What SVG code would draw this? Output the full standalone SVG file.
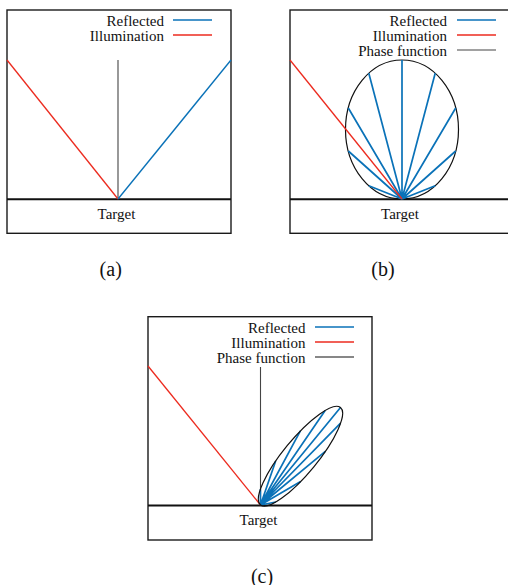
<svg xmlns="http://www.w3.org/2000/svg" width="508" height="585" viewBox="0 0 508 585">
<style>
text{font-family:'Liberation Serif','DejaVu Serif','Times New Roman',Times,serif;font-size:15px;fill:#111}
.cap{font-size:20px;text-anchor:middle}
.lg{text-anchor:end}
.tg{text-anchor:middle}
.box{fill:none;stroke:#1a1a1a;stroke-width:1.4}
.ground{stroke:#111;stroke-width:2}
.red{stroke:#ec2b1f;stroke-width:1.3;fill:none}
.blue{stroke:#0a72b8;stroke-width:1.4;fill:none}
.rays{stroke:#0a72b8;stroke-width:1.7;fill:none}
.norm{stroke:#444;stroke-width:1.1}
.phase{stroke:#111;stroke-width:1.2;fill:none}
</style>
<rect width="508" height="585" fill="#fff"/>

<g id="panel-a" font-family="Liberation Serif, DejaVu Serif, serif">
  <rect class="box" x="7" y="10" width="224" height="223.3"/>
  <line class="ground" x1="7" y1="199.3" x2="231" y2="199.3"/>
  <text class="tg" x="116.5" y="218.5">Target</text>
  <text class="lg" x="164" y="25.5">Reflected</text>
  <text class="lg" x="164" y="40.5">Illumination</text>
  <g id="connectors-a">
    <line class="blue" x1="173" y1="20" x2="212" y2="20"/>
    <line class="red" x1="173" y1="35" x2="212" y2="35"/>
    <line class="norm" x1="118" y1="60" x2="118" y2="199"/>
    <line class="red" x1="7" y1="60" x2="118" y2="199"/>
    <line class="blue" x1="118" y1="199" x2="231" y2="60"/>
  </g>
  <text class="cap" x="110.7" y="275.5">(a)</text>
</g>

<g id="panel-b" font-family="Liberation Serif, DejaVu Serif, serif">
  <rect class="box" x="290" y="10" width="224" height="223.3"/>
  <line class="ground" x1="290" y1="199.3" x2="514" y2="199.3"/>
  <text class="tg" x="400" y="218.5">Target</text>
  <text class="lg" x="447" y="25.5">Reflected</text>
  <text class="lg" x="447" y="40.5">Illumination</text>
  <text class="lg" x="447" y="55.5">Phase function</text>
  <g id="connectors-b">
    <line class="rays" x1="457" y1="20" x2="496" y2="20"/>
    <line class="red" x1="457" y1="35" x2="496" y2="35"/>
    <line class="norm" x1="457" y1="50" x2="496" y2="50"/>
    <ellipse class="phase" cx="402" cy="129.5" rx="56.5" ry="69.5"/>
    <path class="rays" d="M402 199L402 60M402 199L368.8 73.3M402 199L435.2 73.3M402 199L348.3 108M402 199L455.7 108M402 199L348.3 151M402 199L455.7 151M402 199L368.8 185.7M402 199L435.2 185.7"/>
    <line class="red" x1="290" y1="60" x2="402" y2="199"/>
  </g>
  <text class="cap" x="383" y="275.5">(b)</text>
</g>

<g id="panel-c" font-family="Liberation Serif, DejaVu Serif, serif">
  <rect class="box" x="148" y="316.7" width="224" height="223.3"/>
  <line class="ground" x1="148" y1="505.5" x2="372" y2="505.5"/>
  <text class="tg" x="258.5" y="524.5">Target</text>
  <text class="lg" x="305.5" y="332.5">Reflected</text>
  <text class="lg" x="305.5" y="347.5">Illumination</text>
  <text class="lg" x="305.5" y="362.5">Phase function</text>
  <g id="connectors-c">
    <line class="blue" x1="315" y1="327" x2="354" y2="327"/>
    <line class="red" x1="315" y1="342" x2="354" y2="342"/>
    <line class="phase" x1="315" y1="357" x2="354" y2="357"/>
    <line class="norm" x1="260.5" y1="367" x2="260.5" y2="505"/>
    <line class="red" x1="148" y1="366" x2="260.5" y2="505"/>
    <path class="rays" d="M260.5 505L340.5 407.5M260.5 505L340.58 423.15M260.5 505L325.16 410.47M260.5 505L325.33 451.41M260.5 505L300.39 430.97M260.5 505L300.61 481.53M260.5 505L275.67 461.09M260.5 505L275.86 502.03M260.5 505L260.42 489.35"/>
    <ellipse class="phase" cx="300.5" cy="456.25" rx="63.05" ry="17" transform="rotate(-50.63 300.5 456.25)"/>
  </g>
  <text class="cap" x="262" y="582.5">(c)</text>
</g>
</svg>
